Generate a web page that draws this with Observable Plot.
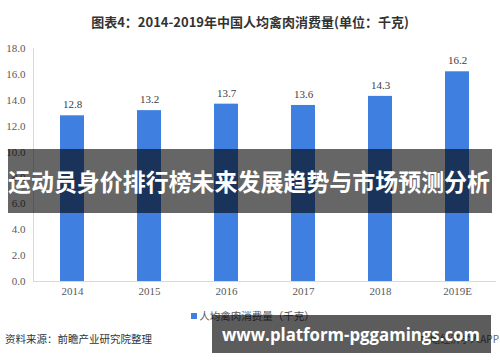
<!DOCTYPE html>
<html><head><meta charset="utf-8">
<script src="https://cdn.jsdelivr.net/npm/d3@7"></script>
<script src="https://cdn.jsdelivr.net/npm/@observablehq/plot@0.6"></script>
<style>
body{margin:0;background:#fff;}
#wrap{position:relative;width:500px;height:362px;overflow:hidden;font-family:"Noto Sans CJK SC",sans-serif;background:#fff;}
#title{position:absolute;left:0;top:12px;width:500px;text-align:center;font-size:13px;font-weight:bold;color:#333;line-height:20px;}
#chart{position:absolute;left:0;top:40px;}
#legend{position:absolute;left:0;top:308px;width:500px;text-align:center;font-size:10.5px;color:#595959;line-height:16px;padding-left:6px;box-sizing:border-box;}
#legend .sw{display:inline-block;width:6px;height:6px;background:#3f7fe0;margin-right:2px;vertical-align:1px;}
#source{position:absolute;left:5px;top:331px;font-size:10.5px;color:#333;line-height:16px;}
#app{position:absolute;right:1px;top:331px;font-size:10px;color:#666;line-height:16px;}
#band{position:absolute;left:8px;top:149px;width:484px;height:64px;background:rgba(0,0,0,0.6);}
#band span{position:absolute;left:0;top:0;color:#fff;font-size:24px;font-weight:bold;line-height:64px;white-space:nowrap;transform-origin:0 50%;}
#site{position:absolute;left:212px;top:315px;width:279px;height:38px;background:rgba(0,0,0,0.64);}
#site span{position:absolute;left:10px;top:0;color:#fff;font-family:"Open Sans",sans-serif;font-size:18px;font-weight:bold;line-height:38px;white-space:nowrap;transform-origin:0 50%;}
</style></head><body>
<div id="wrap">
<div id="title">图表4：2014-2019年中国人均禽肉消费量(单位：千克)</div>
<div id="chart"></div>
<div id="legend"><span class="sw"></span>人均禽肉消费量（千克）</div>
<div id="source">资料来源：前瞻产业研究院整理</div>
<div id="app">前瞻经济学人APP</div>
<div id="band"><span>运动员身价排行榜未来发展趋势与市场预测分析</span></div>
<div id="site"><span>www.platform-pggamings.com</span></div>
</div>
<script>
const years = ["2014","2015","2016","2017","2018","2019E"];
const values = [12.8,13.2,13.7,13.6,14.3,16.2];
const yTicks = [0,2,4,6,8,10,12,14,16,18];
const data = years.map((year,i)=>({year, value: values[i]}));
const chart = Plot.plot({
  width:500, height:270,
  marginTop:8, marginBottom:29, marginLeft:33, marginRight:4,
  style:{fontFamily:"'Liberation Serif', serif", fontSize:"11px", color:"#595959", background:"transparent"},
  x:{domain:years, paddingInner:0.69, paddingOuter:0.345, label:null},
  y:{domain:[0,18], ticks: yTicks, label:null},
  marks:[
    Plot.frame({anchor:"left", stroke:"#d9d9d9"}),
    Plot.barY(data,{x:"year",y:"value",fill:"#3f7fe0"}),
    Plot.ruleY([0],{stroke:"#d9d9d9"}),
    Plot.text(data,{x:"year",y:"value",text:d=>d.value.toFixed(1),dy:-11,fill:"#404040",fontSize:11}),
    Plot.axisY({ticks:yTicks, tickFormat:d=>d.toFixed(1), tickSize:0, tickPadding:8, label:null}),
    Plot.axisX({tickSize:0, tickPadding:6, label:null})
  ]
});
document.getElementById("chart").appendChild(chart);
// fit overlay texts to their measured widths in the reference
function fit(sel, w){
  const el = document.querySelector(sel);
  const cur = el.getBoundingClientRect().width;
  el.style.transform = `scaleX(${w/cur})`;
}
fit("#band span", 482);
fit("#site span", 258);
</script>
</body></html>
